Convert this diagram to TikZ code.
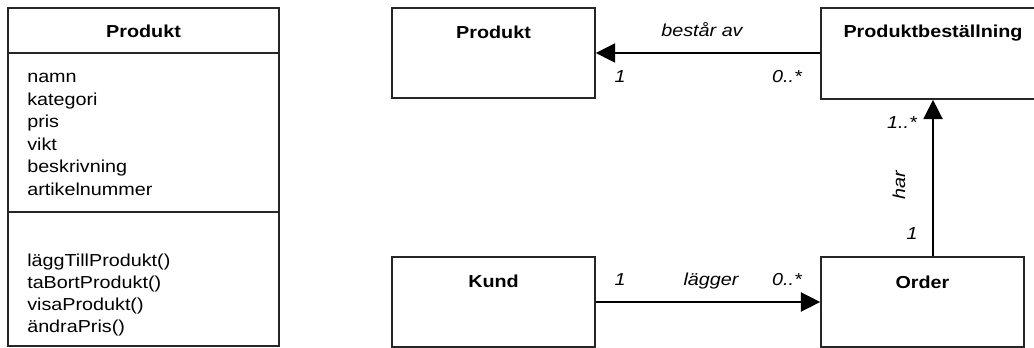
\documentclass[tikz,border=0pt]{standalone}
\usepackage{fontspec}
\setmainfont{Liberation Sans}
\usetikzlibrary{arrows.meta}
\newcommand{\wx}[1]{\scalebox{1.14}[1]{#1}}
\begin{document}
\begin{tikzpicture}[x=0.75pt,y=-0.75pt,
  box/.style={draw=black!85,line width=1.3pt,inner sep=0pt,rectangle},
  ttl/.style={font=\fontsize{13}{15}\selectfont\bfseries,anchor=base,inner sep=0pt},
  attr/.style={font=\fontsize{13}{15}\selectfont,anchor=base west,inner sep=0pt},
  lbl/.style={font=\fontsize{13}{15}\selectfont\itshape,anchor=base,inner sep=0pt},
  arr/.style={line width=1.1pt,-{Triangle[length=14.5pt,width=14.5pt]}}]
\clip (0,0) rectangle (1034,348);
\fill[white] (0,0) rectangle (1034,348);
% left class box
\node[box,minimum width=271*0.75pt,minimum height=338*0.75pt] (cls) at (143.5,177) {};
\draw[line width=1.3pt,draw=black!85] (cls.west |- 0,53) coordinate (d1a) -- (cls.east |- 0,53) coordinate (d1b);
\draw[line width=1.3pt,draw=black!85] (cls.west |- 0,212) coordinate (d2a) -- (cls.east |- 0,212) coordinate (d2b);
\node[ttl] (clsname) at (143.5,38) {\wx{Produkt}};
\node[attr] (a1) at (27,83) {\wx{namn}};
\node[attr] (a2) at (27,105.5) {\wx{kategori}};
\node[attr] (a3) at (27,128) {\wx{pris}};
\node[attr] (a4) at (27,150.5) {\wx{vikt}};
\node[attr] (a5) at (27,173) {\wx{beskrivning}};
\node[attr] (a6) at (27,195.5) {\wx{artikelnummer}};
\node[attr] (m1) at (27,267) {\wx{läggTillProdukt()}};
\node[attr] (m2) at (27,289) {\wx{taBortProdukt()}};
\node[attr] (m3) at (27,311) {\wx{visaProdukt()}};
\node[attr] (m4) at (27,333) {\wx{ändraPris()}};
% right diagram boxes
\node[box,minimum width=203*0.75pt,minimum height=90*0.75pt] (p) at (493.5,53) {};
\node[box,minimum width=224*0.75pt,minimum height=91*0.75pt] (pb) at (933,53.5) {};
\node[box,minimum width=203*0.75pt,minimum height=90*0.75pt] (k) at (493.5,302) {};
\node[box,minimum width=203*0.75pt,minimum height=90*0.75pt] (o) at (922.5,302) {};
\node[ttl] (pt) at (493.5,39) {\wx{Produkt}};
\node[ttl] (pbt) at (933,38) {\wx{Produktbeställning}};
\node[ttl] (kt) at (493.5,288) {\wx{Kund}};
\node[ttl] (ot) at (922.5,289) {\wx{Order}};
% connectors
\draw[arr] (pb.west |- p.east) -- (p.east);
\draw[arr] (k.east) -- (o.west);
\draw[arr] (o.north -| pb.south) -- (pb.south);
% labels
\node[lbl] (l1) at (702,37) {\wx{består av}};
\node[lbl] (l2) at (620,83) {\wx{1}};
\node[lbl] (l3) at (787,83) {\wx{0..*}};
\node[lbl] (l4) at (620,286) {\wx{1}};
\node[lbl] (l5) at (711,286) {\wx{lägger}};
\node[lbl] (l6) at (787,286) {\wx{0..*}};
\node[lbl] (l7) at (902,129) {\wx{1..*}};
\node[lbl,rotate=90,anchor=center] (l8) at (899,185) {\wx{har}};
\node[lbl] (l9) at (912,240) {\wx{1}};
\end{tikzpicture}
\end{document}
